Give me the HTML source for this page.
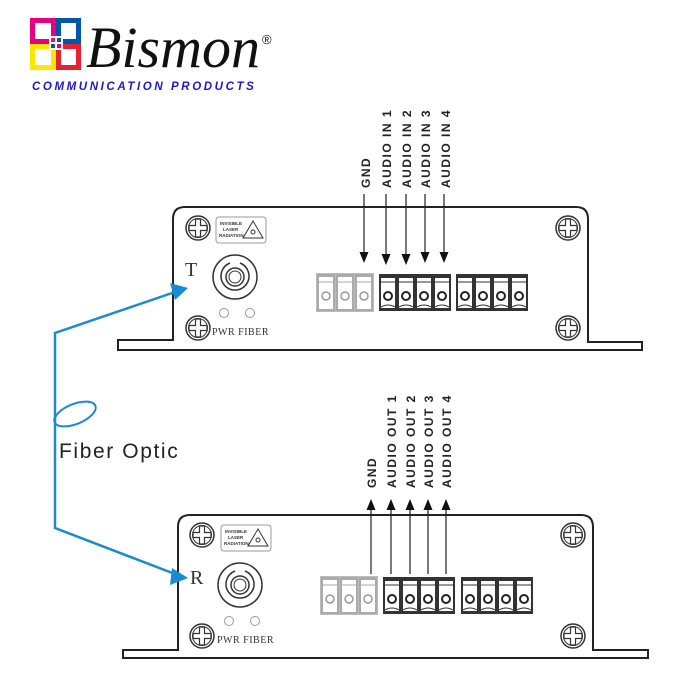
<!DOCTYPE html>
<html><head><style>body{margin:0;background:#fff}svg{display:block}</style></head>
<body>
<svg width="700" height="700" viewBox="0 0 700 700" xmlns="http://www.w3.org/2000/svg" font-family="Liberation Sans, sans-serif">
<defs>
<path id="ad" d="M-4.5,-11 L4.5,-11 L0,0 Z" fill="#111"/>
<path id="au" d="M-4.5,11 L4.5,11 L0,0 Z" fill="#111"/>
<g id="screw"><circle r="12" fill="#fff" stroke="#333" stroke-width="1.5"/><circle r="9.5" fill="none" stroke="#333" stroke-width="1"/><path d="M-2.5,-9 h5 v6.5 h6.5 v5 h-6.5 v6.5 h-5 v-6.5 h-6.5 v-5 h6.5z" fill="#fff" stroke="#333" stroke-width="1.2"/></g>
<g id="pinB"><rect x="0" y="0" width="18" height="37" fill="#333"/><rect x="2" y="4" width="14" height="30" fill="#fff"/><path d="M2,8 h14" stroke="#333"/><circle cx="9" cy="22" r="4" fill="none" stroke="#222" stroke-width="2"/><path d="M2,33 q7,-4 14,0" stroke="#333" fill="none"/></g>
<g id="pinG"><rect x="0" y="0" width="18" height="37" fill="#aaa"/><rect x="2" y="3" width="14" height="32" fill="#fff"/><path d="M2,8 h14" stroke="#aaa"/><circle cx="9" cy="22" r="4" fill="none" stroke="#999" stroke-width="1.5"/></g>
<g id="conn"><rect x="0" y="0" width="50" height="26" rx="3" fill="#fff" stroke="#999"/><text x="4" y="8" font-size="4.5" font-weight="bold" fill="#333">INVISIBLE</text><text x="7" y="14" font-size="4.5" font-weight="bold" fill="#333">LASER</text><text x="3" y="20" font-size="4.5" font-weight="bold" fill="#333">RADIATION</text><path d="M37,4 L47,21 L27,21Z" fill="none" stroke="#333"/><circle cx="37" cy="15" r="2" fill="none" stroke="#333"/>
<circle cx="19" cy="60" r="22" fill="#fff" stroke="#333" stroke-width="1.5"/><path d="M14,46 A14,14 0 1 0 24,46" fill="none" stroke="#333" stroke-width="1.5"/><circle cx="19" cy="60" r="9" fill="none" stroke="#333" stroke-width="1.5"/><circle cx="19" cy="60" r="6" fill="none" stroke="#333"/>
<circle cx="8" cy="96" r="4.5" fill="none" stroke="#999"/><circle cx="34" cy="96" r="4.5" fill="none" stroke="#999"/>
<text x="-4" y="118" font-family="Liberation Serif, serif" font-size="10" fill="#333" letter-spacing="0.5">PWR  FIBER</text></g>
</defs>

<!-- logo -->
<rect x="30" y="18" width="26" height="26" fill="#e6007e"/><rect x="56" y="18" width="25" height="26" fill="#0057a8"/>
<rect x="30" y="44" width="26" height="26" fill="#ffe600"/><rect x="56" y="44" width="25" height="26" fill="#e52330"/>
<rect x="35" y="23" width="16" height="16" fill="#fff"/><rect x="61" y="23" width="15" height="16" fill="#fff"/>
<rect x="35" y="49" width="16" height="16" fill="#fff"/><rect x="61" y="49" width="15" height="16" fill="#fff"/>
<rect x="49" y="36" width="14" height="14" fill="#fff"/><rect x="51" y="38" width="4" height="4" fill="#e52330"/><rect x="57" y="38" width="4" height="4" fill="#0057a8"/><rect x="51" y="44" width="4" height="4" fill="#0057a8"/><rect x="57" y="44" width="4" height="4" fill="#e6007e"/>
<text x="86" y="67" font-family="Liberation Serif, serif" font-style="italic" font-size="58" fill="#111" textLength="174" lengthAdjust="spacingAndGlyphs">Bismon</text>
<text x="262" y="44" font-size="13" fill="#111">®</text>
<text x="32" y="90" font-size="11.5" font-weight="bold" font-style="italic" fill="#1a1acc" letter-spacing="2.6">COMMUNICATION  PRODUCTS</text>

<!-- top unit -->
<path d="M118,350 L642,350 L642,342 L588,342 L588,219 Q588,207 576,207 L185,207 Q173,207 173,219 L173,340 L118,340 Z" fill="#fff" stroke="#222" stroke-width="2"/>
<use href="#screw" x="198" y="228"/><use href="#screw" x="198" y="328"/><use href="#screw" x="568" y="228"/><use href="#screw" x="568" y="328"/>
<use href="#conn" x="216" y="217"/>
<text x="185" y="276" font-family="Liberation Serif, serif" font-size="20" fill="#333">T</text>
<g transform="translate(317,274)"><rect x="-1" y="-1" width="58" height="39" fill="#bbb"/><use href="#pinG" x="0"/><use href="#pinG" x="19"/><use href="#pinG" x="38"/></g>
<g transform="translate(379,274)"><use href="#pinB" x="0"/><use href="#pinB" x="18"/><use href="#pinB" x="36"/><use href="#pinB" x="54"/></g>
<g transform="translate(456,274)"><use href="#pinB" x="0"/><use href="#pinB" x="18"/><use href="#pinB" x="36"/><use href="#pinB" x="54"/></g>
<g stroke="#222" stroke-width="1.2">
<line x1="364" y1="194" x2="364" y2="255"/><line x1="386" y1="194" x2="386" y2="257"/><line x1="406" y1="194" x2="406" y2="257"/><line x1="425" y1="194" x2="425" y2="255"/><line x1="444" y1="194" x2="444" y2="255"/></g>
<use href="#ad" x="364" y="263"/><use href="#ad" x="386" y="265"/><use href="#ad" x="406" y="265"/><use href="#ad" x="425" y="263"/><use href="#ad" x="444" y="263"/>
<g font-size="12" font-weight="bold" fill="#222" letter-spacing="1.5">
<text transform="translate(370,188) rotate(-90)">GND</text>
<text transform="translate(391,188) rotate(-90)">AUDIO IN 1</text>
<text transform="translate(411,188) rotate(-90)">AUDIO IN 2</text>
<text transform="translate(430,188) rotate(-90)">AUDIO IN 3</text>
<text transform="translate(450,188) rotate(-90)">AUDIO IN 4</text></g>

<!-- bottom unit -->
<path d="M123,658 L648,658 L648,650 L593,650 L593,527 Q593,515 581,515 L190,515 Q178,515 178,527 L178,650 L123,650 Z" fill="#fff" stroke="#222" stroke-width="2"/>
<use href="#screw" x="202" y="535"/><use href="#screw" x="202" y="636"/><use href="#screw" x="573" y="535"/><use href="#screw" x="573" y="636"/>
<use href="#conn" x="221" y="525"/>
<text x="190" y="584" font-family="Liberation Serif, serif" font-size="20" fill="#333">R</text>
<g transform="translate(321,577)"><rect x="-1" y="-1" width="58" height="39" fill="#bbb"/><use href="#pinG" x="0"/><use href="#pinG" x="19"/><use href="#pinG" x="38"/></g>
<g transform="translate(383,577)"><use href="#pinB" x="0"/><use href="#pinB" x="18"/><use href="#pinB" x="36"/><use href="#pinB" x="54"/></g>
<g transform="translate(461,577)"><use href="#pinB" x="0"/><use href="#pinB" x="18"/><use href="#pinB" x="36"/><use href="#pinB" x="54"/></g>
<g stroke="#222" stroke-width="1.2">
<line x1="371" y1="574" x2="371" y2="508"/><line x1="391" y1="574" x2="391" y2="508"/><line x1="410" y1="574" x2="410" y2="508"/><line x1="428" y1="574" x2="428" y2="508"/><line x1="446" y1="574" x2="446" y2="508"/></g>
<use href="#au" x="371" y="499"/><use href="#au" x="391" y="499"/><use href="#au" x="410" y="499"/><use href="#au" x="428" y="499"/><use href="#au" x="446" y="499"/>
<g font-size="12" font-weight="bold" fill="#222" letter-spacing="1.5">
<text transform="translate(376,488) rotate(-90)">GND</text>
<text transform="translate(396,488) rotate(-90)">AUDIO OUT 1</text>
<text transform="translate(415,488) rotate(-90)">AUDIO OUT 2</text>
<text transform="translate(433,488) rotate(-90)">AUDIO OUT 3</text>
<text transform="translate(451,488) rotate(-90)">AUDIO OUT 4</text></g>

<!-- fiber -->
<path d="M175,292 L55,333 L55,528 L175,574" fill="none" stroke="#1a8ad4" stroke-width="2.5"/>
<path d="M188,288 L170,283 L175,300 Z" fill="#1a8ad4"/>
<path d="M188,578 L172,568 L170,585 Z" fill="#1a8ad4"/>
<ellipse cx="75" cy="414" rx="22" ry="10" transform="rotate(-22 75 414)" fill="none" stroke="#1a8ad4" stroke-width="2"/>
<text x="59" y="458" font-size="21" fill="#222" letter-spacing="1.6">Fiber Optic</text>
</svg>
</body></html>
